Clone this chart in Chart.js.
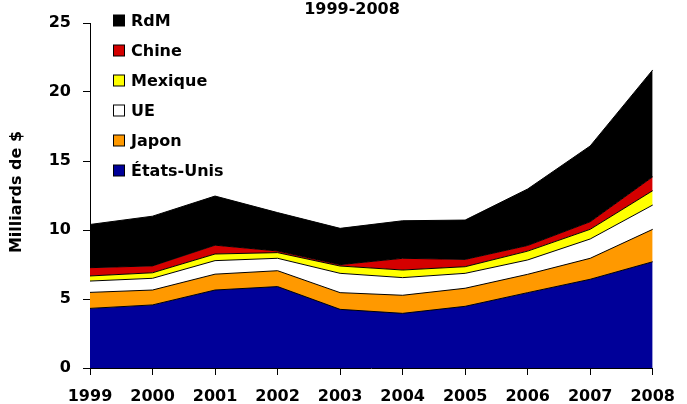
<!DOCTYPE html>
<html>
<head>
<meta charset="utf-8">
<script src="https://cdn.jsdelivr.net/npm/chart.js@4/dist/chart.umd.min.js"></script>
<style>
  html, body { margin: 0; padding: 0; background: #fff; }
</style>
</head>
<body>
<canvas id="graficoAires" width="687" height="404"></canvas>
<script>
// Données (milliards de $), valeurs par pays, empilées
const annees = ['1999', '2000', '2001', '2002', '2003', '2004', '2005', '2006', '2007', '2008'];
const etatsUnis = [4.32, 4.57, 5.65, 5.90, 4.25, 3.96, 4.47, 5.46, 6.43, 7.70];
const japon     = [1.16, 1.08, 1.15, 1.15, 1.21, 1.31, 1.31, 1.33, 1.52, 2.35];
const ue        = [0.82, 0.85, 0.98, 0.90, 1.40, 1.28, 1.08, 1.04, 1.40, 1.76];
const mexique   = [0.37, 0.40, 0.48, 0.41, 0.53, 0.55, 0.48, 0.64, 0.70, 1.04];
const chine     = [0.60, 0.50, 0.64, 0.12, 0.10, 0.85, 0.53, 0.41, 0.55, 1.01];
const rdm       = [3.13, 3.60, 3.56, 2.78, 2.63, 2.72, 2.85, 4.09, 5.49, 7.74];
const ticksY    = [0, 5, 10, 15, 20, 25];
const titre = '1999-2008';
const titreAxeY = 'Milliards de $';

const police = '"DejaVu Sans", Verdana, sans-serif';

const serie = (label, data, couleur, fill) => ({
  label, data,
  backgroundColor: couleur,
  borderColor: '#000',
  borderWidth: 1,
  fill,
  tension: 0,
  pointRadius: 0
});

// Titre, légende et titre d'axe dessinés à la main
const decor = {
  id: 'decor',
  afterDraw(chart) {
    const ctx = chart.ctx;
    ctx.save();
    ctx.fillStyle = '#000';
    ctx.font = 'bold 16px ' + police;
    ctx.textAlign = 'center';
    ctx.textBaseline = 'middle';
    ctx.fillText(titre, 352, 10);

    // Titre de l'axe Y
    ctx.save();
    ctx.translate(17, 192);
    ctx.rotate(-Math.PI / 2);
    ctx.fillText(titreAxeY, 0, 0);
    ctx.restore();

    // Légende (ordre inverse : RdM en haut)
    const ds = chart.data.datasets.slice().reverse();
    ctx.textAlign = 'left';
    ds.forEach((d, i) => {
      const y = 20.5 + i * 30;
      ctx.fillStyle = d.backgroundColor;
      ctx.fillRect(113.5, y - 5.5, 11, 11);
      ctx.strokeStyle = '#000';
      ctx.lineWidth = 1;
      ctx.strokeRect(113.5, y - 5.5, 11, 11);
      ctx.fillStyle = '#000';
      ctx.fillText(d.label, 131, y + 1);
    });
    ctx.restore();
  }
};

new Chart(document.getElementById('graficoAires'), {
  type: 'line',
  data: {
    labels: annees,
    datasets: [
      serie('États-Unis', etatsUnis, '#000099', 'origin'),
      serie('Japon', japon, '#FF9900', '-1'),
      serie('UE', ue, '#FFFFFF', '-1'),
      serie('Mexique', mexique, '#FFFF00', '-1'),
      serie('Chine', chine, '#D40000', '-1'),
      serie('RdM', rdm, '#000000', '-1')
    ]
  },
  options: {
    responsive: false,
    animation: false,
    devicePixelRatio: 1,
    layout: { padding: { top: 23, right: 24, left: 0, bottom: 0 } },
    plugins: { legend: { display: false }, tooltip: { enabled: false } },
    scales: {
      x: {
        offset: false,
        grid: { display: true, drawOnChartArea: false, offset: false, tickLength: 7, color: '#000' },
        border: { display: true, color: '#000', width: 1 },
        ticks: { color: '#000', font: { family: police, size: 16, weight: 'bold' }, padding: 12, maxRotation: 0, autoSkip: false },
        afterFit: s => { s.height = 36; }
      },
      y: {
        stacked: true,
        min: 0, max: 25,
        afterBuildTicks: s => { s.ticks = ticksY.map(v => ({ value: v })); },
        grid: { display: true, drawOnChartArea: false, tickLength: 7, color: '#000' },
        border: { display: true, color: '#000', width: 1 },
        ticks: { color: '#000', font: { family: police, size: 16, weight: 'bold' }, padding: 12 },
        afterFit: s => { s.width = 90; }
      }
    }
  },
  plugins: [decor]
});
</script>
</body>
</html>
